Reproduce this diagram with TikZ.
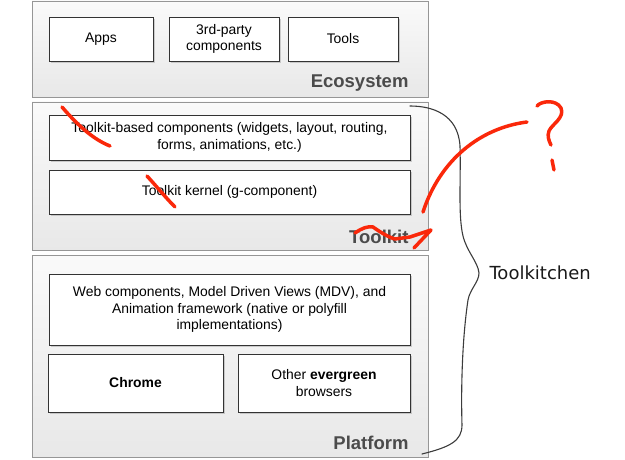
\documentclass[tikz,border=0pt]{standalone}
\usepackage{fontspec}
\setmainfont{Liberation Sans}
\newfontfamily\notefont{DejaVu Sans}
\usetikzlibrary{shadows, positioning}
\definecolor{panelline}{RGB}{150, 150, 150}
\definecolor{labelgray}{RGB}{75, 75, 75}
\definecolor{inkred}{RGB}{250, 40, 10}
\definecolor{inkgray}{RGB}{60, 60, 60}

\tikzset{
  layer/.style={draw=panelline, line width=0.8pt, top color=white!98!black, bottom color=white!91!black, inner sep=0pt},
  box/.style={draw=black!80, fill=white, line width=0.9pt,
    drop shadow={shadow xshift=1.5pt, shadow yshift=-2pt, opacity=0.35},
    align=center, font=\fontsize{13.9}{16.5}\selectfont, inner sep=2pt},
  layername/.style={anchor=east, font=\fontsize{18.5}{21}\selectfont\bfseries, text=labelgray},
  scribble/.style={inkred, line width=3.5pt, line cap=round, line join=round},
}

\begin{document}
\begin{tikzpicture}[x=1pt, y=-1pt]
  \useasboundingbox (0, 0) rectangle (625, 460);

  % Ecosystem
  \node[layer, minimum width=396pt, minimum height=96pt] (ecopanel) at (230, 49) {};
  \node[box, minimum width=104pt, minimum height=44pt] (apps) at (101, 39) {Apps};
  \node[box, minimum width=110pt, minimum height=44pt] (thirdparty) at (224, 39) {3rd-party\\components};
  \node[box, minimum width=110pt, minimum height=44pt] (tools) at (343, 39) {Tools};
  \node[layername] (ecolabel) at (412, 83) {Ecosystem};

  % Toolkit
  \node[layer, minimum width=396pt, minimum height=148pt] (tkpanel) at (230, 176) {};
  \node[box, minimum width=361pt, minimum height=45pt] (tkcomp) at (229.5, 137.5)
    {Toolkit-based components (widgets, layout, routing,\\forms, animations, etc.)};
  \node[box, minimum width=361pt, minimum height=44pt] (tkkernel) at (229.5, 192) {Toolkit kernel (g-component)};
  \node[layername] (tklabel) at (412, 237) {Toolkit};

  % Platform
  \node[layer, minimum width=396pt, minimum height=202pt] (platpanel) at (230, 356) {};
  \node[box, minimum width=361pt, minimum height=71pt] (webcomp) at (229.5, 309.5)
    {Web components, Model Driven Views (MDV), and\\Animation framework (native or polyfill\\implementations)};
  \node[box, minimum width=175pt, minimum height=58pt] (chrome) at (135.5, 383) {\textbf{Chrome}};
  \node[box, minimum width=172pt, minimum height=58pt] (other) at (324, 383) {Other \textbf{evergreen}\\browsers};
  \node[layername] (platlabel) at (412, 443) {Platform};

  % brace
  \draw[inkgray, line width=1.1pt, line cap=round]
    (410, 106) .. controls (432, 106) and (458, 114) .. (460, 146)
    .. controls (461, 180) and (458, 215) .. (463, 236)
    .. controls (467, 252) and (478, 262) .. (479, 273)
    .. controls (479, 282) and (470, 289) .. (468, 300)
    .. controls (462, 340) and (461, 390) .. (462, 425)
    .. controls (462, 441) and (450, 447) .. (422, 454);
  \node[anchor=west, font=\notefont\fontsize{18}{21}\selectfont, text=black!90] (kitchen) at (486, 273) {Toolkitchen};

  % red ink
  \draw[scribble] (62, 107) .. controls (80, 128) and (95, 140) .. (110, 146);
  \draw[scribble] (147, 176) .. controls (158, 188) and (166, 198) .. (175, 207);
  \draw[scribble] (355, 233) .. controls (362, 228) and (368, 226) .. (373, 227)
    .. controls (380, 232) and (388, 237) .. (395, 239) -- (410, 237) -- (431, 230) -- (414, 248);
  \draw[scribble] (423, 212) .. controls (440, 160) and (480, 128) .. (527, 122);
  \draw[scribble] (537, 106) .. controls (541, 101) and (556, 99) .. (561, 108)
    .. controls (565, 118) and (552, 124) .. (549, 131)
    .. controls (547, 136) and (549, 141) .. (551, 145);
  \draw[scribble] (552, 160) -- (554, 170);
\end{tikzpicture}
\end{document}
